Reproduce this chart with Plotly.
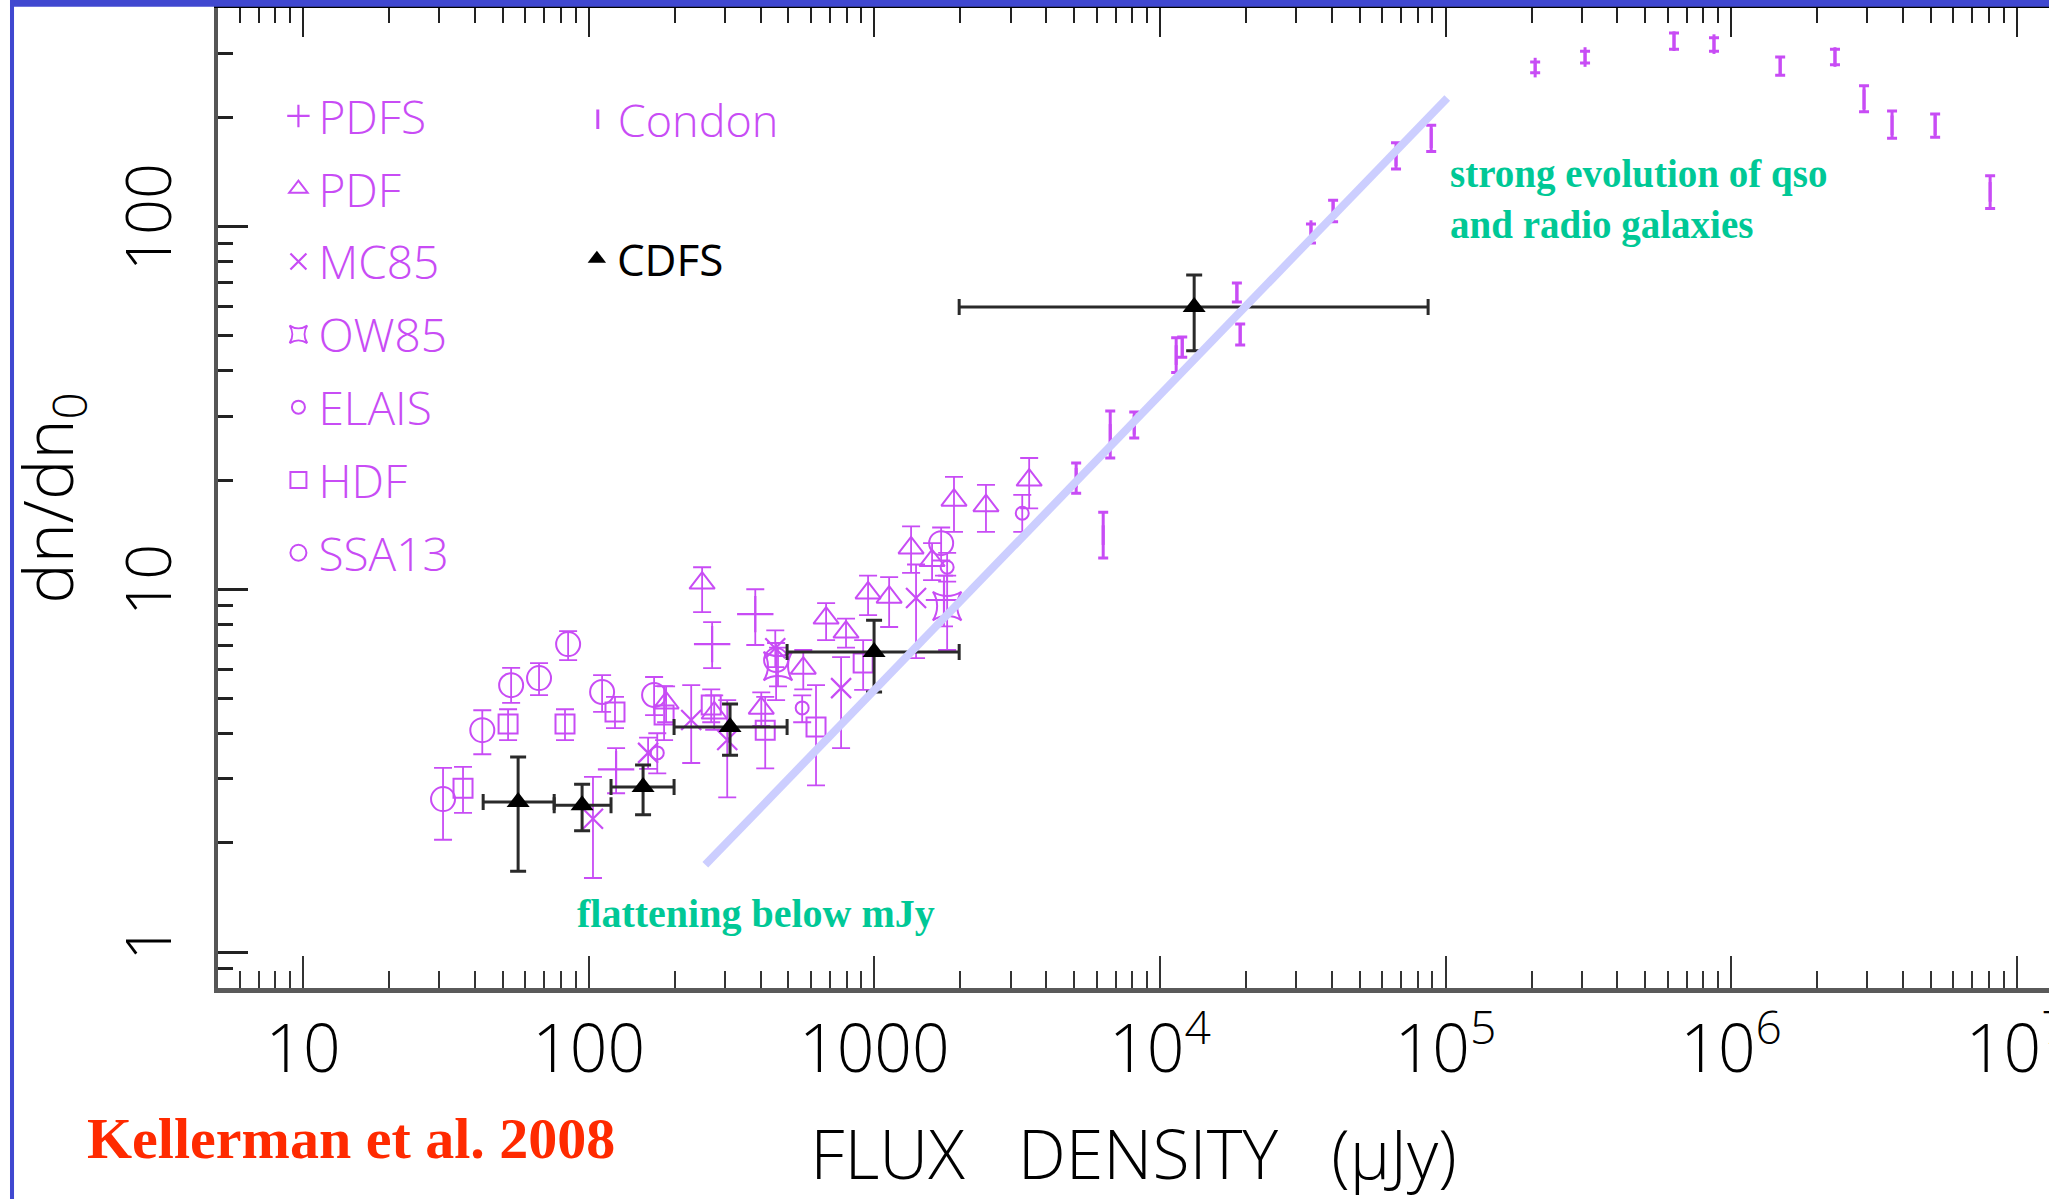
import plotly.graph_objects as go

# ---------------- data ----------------
pdfs_x = [124.7, 270.5, 383, 1754]
pdfs_y = [3.19, 7.06, 8.54, 9.34]
pdfs_hi = [3.65, 8.12, 10.0, 10.9]
pdfs_lo = [2.74, 6.06, 7.02, 7.9]

pdf_x = [186.6, 249.5, 275, 402, 564, 678, 796, 951, 1127, 1345, 1593, 1901, 2460, 3485]
pdf_y = [4.86, 10.4, 4.56, 4.70, 6.06, 8.33, 7.62, 9.77, 9.51, 13.0, 12.0, 17.6, 17.0, 20.0]
pdf_hi = [5.4, 11.5, 5.1, 5.2, 6.8, 9.16, 8.3, 10.9, 10.8, 14.9, 13.4, 20.4, 19.4, 23.0]
pdf_lo = [4.3, 8.65, 4.1, 4.2, 5.3, 7.24, 6.9, 8.49, 7.87, 11.1, 10.6, 14.4, 14.4, 16.7]

mc85_x = [103.5, 161.4, 228.5, 305.5, 450, 765, 1400]
mc85_y = [2.33, 3.54, 4.36, 3.84, 6.88, 5.34, 9.46]
mc85_hi = [3.04, 3.9, 5.44, 4.95, 7.7, 6.50, 11.7]
mc85_lo = [1.60, 3.2, 3.32, 2.67, 6.1, 3.65, 6.46]

ow85_x = [460, 1799]
ow85_y = [6.14, 8.99]
ow85_hi = [6.9, 10.9]
ow85_lo = [5.4, 6.8]

elais_x = [173.8, 559, 1799, 3296]
elais_y = [3.54, 4.71, 11.5, 16.2]
elais_hi = [4.01, 5.1, 12.6, 18.2]
elais_lo = [3.11, 4.3, 10.5, 14.4]

hdf_x = [36.3, 52.2, 82.6, 123.6, 183.6, 268.5, 415, 625, 914]
hdf_y = [2.83, 4.25, 4.25, 4.59, 4.50, 4.80, 4.09, 4.17, 6.26]
hdf_hi = [3.24, 4.67, 4.67, 5.05, 5.41, 5.3, 5.05, 5.44, 7.24]
hdf_lo = [2.42, 3.84, 3.84, 4.14, 3.84, 4.3, 3.21, 2.88, 5.28]

ssa13_x = [30.9, 42.4, 53.5, 67.0, 84.7, 111.4, 169.4, 453, 1714]
ssa13_y = [2.64, 4.09, 5.44, 5.69, 7.06, 5.21, 5.11, 6.38, 13.4]
ssa13_hi = [3.22, 4.64, 6.07, 6.26, 7.67, 5.80, 5.73, 7.11, 14.8]
ssa13_lo = [2.04, 3.51, 4.86, 5.11, 6.38, 4.59, 4.50, 4.95, 12.0]

condon_x = [5090, 6330, 6700, 8130, 11400, 11970, 18600, 19100, 33800, 40400, 67100, 89100,
            206000, 308000, 631000, 871000, 1485000, 2310000, 2920000, 3660000, 5180000, 8070000]
condon_y = [20.3, 14.1, 26.8, 28.4, 44.2, 46.5, 65.9, 50.5, 97.7, 110, 156, 175,
            274, 293, 324, 318, 277, 293, 224, 190, 190, 124.5]
condon_hi = [22.3, 16.3, 31, 30.8, 49.3, 49.6, 69.8, 53.8, 101.6, 118, 170, 190,
             284, 304, 341, 331, 293, 308, 244, 208, 204, 138]
condon_lo = [18.4, 12.2, 23, 26.1, 39.6, 43.6, 61.9, 47.1, 90, 103, 144, 161,
             265, 282, 308, 304, 261, 279, 207, 175, 176, 112]

cdfs_x = [56.6, 94.8, 155, 312.5, 998, 13180]
cdfs_y = [2.59, 2.54, 2.85, 4.17, 6.71, 60]
cdfs_yhi = [3.45, 2.90, 3.28, 4.83, 8.22, 73.5]
cdfs_ylo = [1.67, 2.16, 2.39, 3.49, 5.21, 45.4]
cdfs_xlo = [42.7, 75.7, 119.7, 199, 495, 1982]
cdfs_xhi = [75.7, 119.7, 199, 495, 1982, 86900]

fit_x = [256, 101400]
fit_y = [1.74, 226]

x_ticks = [10, 100, 1000, 1e4, 1e5, 1e6, 1e7]
x_ticktext = ["10", "100", "1000", "10<sup>4</sup>", "10<sup>5</sup>", "10<sup>6</sup>", "10<sup>7</sup>"]
y_ticks = [1, 10, 100]
y_ticktext = ["1", "10", "100"]

# ---------------- styling ----------------
MAG = "#C84CF5"
THIN = "Open Sans, DejaVu Sans, sans-serif"
NB = "\u00a0"
FS = "\u2007"
x_minor = [m * 10 ** e for e in range(0, 8) for m in range(2, 10)]
y_minor = [0.9] + [m * 10 ** e for e in range(0, 2) for m in range(2, 10)] + [200, 300]


def err(y, hi, lo):
    return [h - v for h, v in zip(hi, y)], [v - l for v, l in zip(y, lo)]


fig = go.Figure()


def add_series(name, x, y, hi, lo, symbol, size, lw=2):
    up, dn = err(y, hi, lo)
    fig.add_trace(go.Scatter(
        x=x, y=y, mode="markers", name=name, legend="legend", legendgroup=name,
        marker=dict(symbol=symbol, size=size, color=MAG, line=dict(color=MAG, width=lw)),
        error_y=dict(type="data", symmetric=False, array=up, arrayminus=dn,
                     color=MAG, thickness=1.8, width=9)))


add_series("PDFS", pdfs_x, pdfs_y, pdfs_hi, pdfs_lo, "cross-thin-open", 26, 2.2)
add_series("PDF", pdf_x, pdf_y, pdf_hi, pdf_lo, "triangle-up-open", 22)
add_series("MC85", mc85_x, mc85_y, mc85_hi, mc85_lo, "x-thin-open", 20, 2.2)
add_series("OW85", ow85_x, ow85_y, ow85_hi, ow85_lo, "star-square-open", 26)
add_series("ELAIS", elais_x, elais_y, elais_hi, elais_lo, "circle-open", 13)
add_series("HDF", hdf_x, hdf_y, hdf_hi, hdf_lo, "square-open", 19)
add_series("SSA13", ssa13_x, ssa13_y, ssa13_hi, ssa13_lo, "circle-open", 24)

c_up, c_dn = err(condon_y, condon_hi, condon_lo)
fig.add_trace(go.Scatter(
    x=condon_x, y=condon_y, mode="markers", name="Condon", legend="legend2",
    marker=dict(symbol="line-ns-open", size=14, color=MAG, line=dict(color=MAG, width=3)),
    error_y=dict(type="data", symmetric=False, array=c_up, arrayminus=c_dn,
                 color=MAG, thickness=3, width=5)))

cy_up, cy_dn = err(cdfs_y, cdfs_yhi, cdfs_ylo)
cx_up, cx_dn = err(cdfs_x, cdfs_xhi, cdfs_xlo)
fig.add_trace(go.Scatter(
    x=cdfs_x, y=cdfs_y, mode="markers", name="CDFS", legend="legend3",
    marker=dict(symbol="triangle-up", size=20, color="black"),
    error_y=dict(type="data", symmetric=False, array=cy_up, arrayminus=cy_dn,
                 color="#2a2a2a", thickness=3, width=8),
    error_x=dict(type="data", symmetric=False, array=cx_up, arrayminus=cx_dn,
                 color="#2a2a2a", thickness=3, width=8)))

fig.add_trace(go.Scatter(
    x=fit_x, y=fit_y, mode="lines", showlegend=False,
    line=dict(color="rgb(204,206,255)", width=8)))

# dummy trace so that the top (mirror) axis is drawn
fig.add_trace(go.Scatter(x=[], y=[], xaxis="x2", showlegend=False))

XR = [0.702, 7.113]
fig.update_layout(
    width=2049, height=1199,
    margin=dict(l=218, r=0, t=8, b=211, autoexpand=False),
    paper_bgcolor="white", plot_bgcolor="white",
    showlegend=True,
    xaxis=dict(
        type="log", range=XR, showgrid=False, zeroline=False, automargin=False,
        showline=True, linecolor="#5a5a5a", linewidth=5,
        tickvals=x_ticks, ticktext=x_ticktext, ticks="inside", ticklen=32,
        tickwidth=2, tickcolor="#333", ticklabelstandoff=0, ticklabeloverflow="allow",
        tickfont=dict(family=THIN, size=66, color="black", weight=300),
        minor=dict(tickvals=x_minor, ticks="inside", ticklen=17, tickwidth=2, tickcolor="#333"),
        title=dict(text=FS + "FLUX" + NB * 3 + "DENSITY" + NB * 3 + "(μJy)",
                   font=dict(family=THIN, size=68, color="black", weight=300), standoff=62),
    ),
    xaxis2=dict(
        type="log", range=XR, overlaying="x", side="top", anchor="y", automargin=False,
        showgrid=False, zeroline=False, showline=True, linecolor="black", linewidth=2,
        tickvals=x_ticks, showticklabels=False, ticks="inside", ticklen=29,
        tickwidth=2, tickcolor="#222",
        minor=dict(tickvals=x_minor, ticks="inside", ticklen=15, tickwidth=2, tickcolor="#222"),
    ),
    yaxis=dict(
        type="log", range=[-0.099, 2.602], showgrid=False, zeroline=False, automargin=False,
        showline=True, linecolor="#555", linewidth=4,
        tickvals=y_ticks, ticktext=y_ticktext, tickangle=-90, ticks="inside",
        ticklen=30, tickwidth=3, tickcolor="#222", ticklabelstandoff=18,
        tickfont=dict(family=THIN, size=63, color="black", weight=300),
        minor=dict(tickvals=y_minor, ticks="inside", ticklen=15, tickwidth=3, tickcolor="#222"),
        title=dict(text="dn/dn<sub>0</sub>", font=dict(family=THIN, size=68, color="black", weight=300),
                   standoff=10),
    ),
    legend=dict(x=0.033, y=0.927, xanchor="left", yanchor="top", bgcolor="rgba(0,0,0,0)",
                font=dict(family=THIN, size=46, color=MAG, weight=300), tracegroupgap=10,
                itemsizing="trace"),
    legend2=dict(x=0.1965, y=0.923, xanchor="left", yanchor="top", bgcolor="rgba(0,0,0,0)",
                 font=dict(family=THIN, size=45, color=MAG, weight=300), itemsizing="trace"),
    legend3=dict(x=0.196, y=0.780, xanchor="left", yanchor="top", bgcolor="rgba(0,0,0,0)",
                 font=dict(family=THIN, size=44, color="black", weight=500), itemsizing="trace"),
    annotations=[
        dict(xref="paper", yref="paper", x=0.6718, y=0.805, xanchor="left", yanchor="middle",
             align="left", showarrow=False,
             text="<b>strong evolution of qso<br>and radio galaxies</b>",
             font=dict(family="Liberation Serif", size=39, color="#00C896")),
        dict(xref="paper", yref="paper", x=0.2938, y=0.0765, xanchor="center", yanchor="middle",
             showarrow=False, text="<b>flattening below mJy</b>",
             font=dict(family="Liberation Serif", size=40, color="#00C896")),
        dict(xref="paper", yref="paper", x=-0.0726, y=-0.154, xanchor="left", yanchor="middle",
             showarrow=False, text="<b>Kellerman et al. 2008</b>",
             font=dict(family="Liberation Serif", size=58, color="#FF2A00")),
    ],
    shapes=[
        dict(type="rect", xref="paper", yref="paper", x0=-0.1136, x1=1.05, y0=1.0012, y1=1.0090,
             fillcolor="#4048D0", line=dict(width=0), layer="above"),
        dict(type="rect", xref="paper", yref="paper", x0=-0.1136, x1=-0.1114, y0=-0.2153, y1=1.0090,
             fillcolor="#4048D0", line=dict(width=0), layer="above"),
    ],
)

fig.write_html("out.html", config={"displayModeBar": False},
               post_script="document.body.style.margin='0px';")
